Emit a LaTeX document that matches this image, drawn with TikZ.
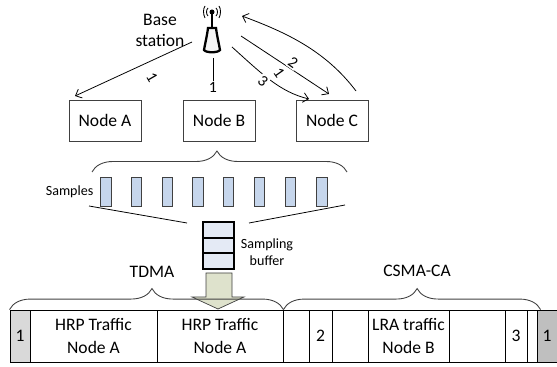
\documentclass[tikz,border=0pt]{standalone}
\usepackage{fontspec}
\setmainfont{Carlito}
\usetikzlibrary{decorations.pathreplacing,arrows.meta}
\definecolor{samplefill}{HTML}{C6D6EC}
\definecolor{bufferfill}{HTML}{E4EAF5}
\definecolor{arrowfill}{HTML}{DEE2CC}
\definecolor{edgegrey}{HTML}{404040}
\tikzset{
	nodebox/.style={draw=edgegrey, line width=0.5pt, minimum width=1.44cm, minimum height=0.82cm, font=\fontsize{10}{12}\selectfont},
	slotbox/.style={draw=black, line width=0.5pt, minimum height=1.04cm, inner sep=0pt, align=center, font=\fontsize{10}{13}\selectfont},
	samplebar/.style={draw=edgegrey, line width=0.5pt, fill=samplefill, minimum height=0.58cm, inner sep=0pt},
	bufferbox/.style={draw=black, line width=1pt, fill=bufferfill, minimum width=0.62cm, minimum height=0.31cm, inner sep=0pt},
	numlabel/.style={inner sep=0.5pt, font=\fontsize{9}{10}\selectfont},
	bracket/.style={decorate, decoration={brace, amplitude=0.42cm, aspect=#1}, draw=edgegrey, line width=0.5pt},
	link/.style={draw=black, line width=0.45pt},
	linkarrow/.style={link, -{Straight Barb[length=3pt,width=5.5pt]}}
}
\begin{document}
\begin{tikzpicture}[x=0.02cm,y=-0.02cm]
\useasboundingbox (0,0) rectangle (557,367);

%Base station
\draw[black, line width=1.3pt] (212,12) -- (212,28);
\fill[black] (212,12) circle (2.5);
\draw[black, line width=1.3pt, fill=black!4] (208,28) -- (216,28) .. controls (217,36) and (219,44) .. (220,50)
	.. controls (218,53) and (206,53) .. (204,50) .. controls (205,44) and (207,36) .. (208,28) -- cycle;
\foreach \dx in {-1,1} {
	\draw[black, line width=0.5pt] ({212+\dx*4},8) .. controls ({212+\dx*6},10) and ({212+\dx*6},14) .. ({212+\dx*4},16);
	\draw[black, line width=0.5pt] ({212+\dx*7},6) .. controls ({212+\dx*9},9) and ({212+\dx*9},14) .. ({212+\dx*7},18);
}
\node [align=center, font=\fontsize{10}{12}\selectfont]  (basetext)at (160,30) {Base\\station};

%Nodes
\node [nodebox]  (nodeA)at (105,120.5) {Node A};
\node [nodebox]  (nodeB)at (219,120.5) {Node B};
\node [nodebox]  (nodeC)at (332,120.5) {Node C};

%Links
\coordinate (txA) at (192,42);
\coordinate (rxA) at (75,96);
\coordinate (txB) at (213,58);
\coordinate (txC) at (241,36);
\coordinate (rxC) at (329,94);
\coordinate (txD) at (232,47);
\coordinate (rxD) at (309,99);
\coordinate (txE) at (356,91);
\coordinate (rxE) at (242,16);
\draw[linkarrow] (txA) -- (rxA);
\node [numlabel, rotate=-60]  (labA)at (152,77) {1};
\node [numlabel]  (labB)at (213,87) {1};
\draw[link] (txB) -- (labB.north);
\draw[linkarrow] (txC) -- (rxC);
\node [numlabel, fill=white, rotate=-35]  (labC)at (293,63) {2};
\node [numlabel, rotate=-55]  (labD)at (279,73) {1};
\draw[linkarrow] (txD) .. controls (262,74) and (280,92) .. (rxD);
\node [numlabel, fill=white, rotate=-40]  (labE)at (263,81) {3};
\draw[linkarrow] (txE) .. controls (325,50) and (285,32) .. (rxE);

%Samples
\foreach \sx/\sw [count=\si] in {105.5/11, 136/10, 167/10, 197.5/11, 228.5/9.5, 259.5/9.5, 290/10, 321.5/11} {
	\node [samplebar, minimum width=\sw*0.02cm]  (sample\si)at (\sx,191.5) {};
}
\node [left=0pt, font=\fontsize{8}{10}\selectfont]  (samplestext)at (sample1.west) {Samples};
\coordinate (sbL) at (92,172);
\coordinate (sbR) at (347,172);
\draw[bracket=0.49] (sbL) -- (sbR);

%Sampling buffer
\node [bufferbox]  (buf1)at (218.5,230) {};
\node [bufferbox]  (buf2)at (218.5,245.5) {};
\node [bufferbox]  (buf3)at (218.5,261) {};
\node [align=center, font=\fontsize{8}{10}\selectfont]  (buftext)at (267,252) {Sampling\\buffer};
\coordinate (funL) at (89,206);
\coordinate (funR) at (345,205);
\draw[link] (funL) -- (187,223);
\draw[link] (funR) -- (249,223);
\draw[draw=edgegrey, fill=arrowfill] (206,273) -- (232,273) -- (232,297) -- (244,297) -- (218,309)
	-- (192,297) -- (206,297) -- cycle;

%Frame
\node [slotbox, fill=black!15, minimum width=0.4cm]  (beacon)at (20,336) {1};
\node [slotbox, minimum width=2.54cm]  (hrpA)at (93.5,336) {HRP Traffic\\Node A};
\node [slotbox, minimum width=2.52cm]  (hrpB)at (220,336) {HRP Traffic\\Node A};
\node [slotbox, minimum width=0.52cm]  (gapA)at (296,336) {};
\node [slotbox, minimum width=0.46cm]  (ackA)at (320.5,336) {2};
\node [slotbox, minimum width=0.72cm]  (gapB)at (350,336) {};
\node [slotbox, minimum width=1.62cm]  (lra)at (408.5,336) {LRA traffic\\Node B};
\node [slotbox, minimum width=1.12cm]  (gapC)at (477,336) {};
\node [slotbox, minimum width=0.44cm]  (ackB)at (516,336) {3};
\node [slotbox, minimum width=0.2cm]  (gapD)at (532,336) {};
\node [slotbox, fill=black!25, minimum width=0.4cm]  (beaconB)at (547,336) {1};

\draw[bracket=0.52] (beacon.north west) -- (hrpB.north east);
\draw[bracket=0.52] (hrpB.north east) -- ([xshift=0.08cm]beaconB.north west);
\node [font=\fontsize{10}{12}\selectfont]  (tdmatext)at (152,272) {TDMA};
\node [font=\fontsize{10}{12}\selectfont]  (csmatext)at (417,271) {CSMA-CA};

\end{tikzpicture}
\end{document}
